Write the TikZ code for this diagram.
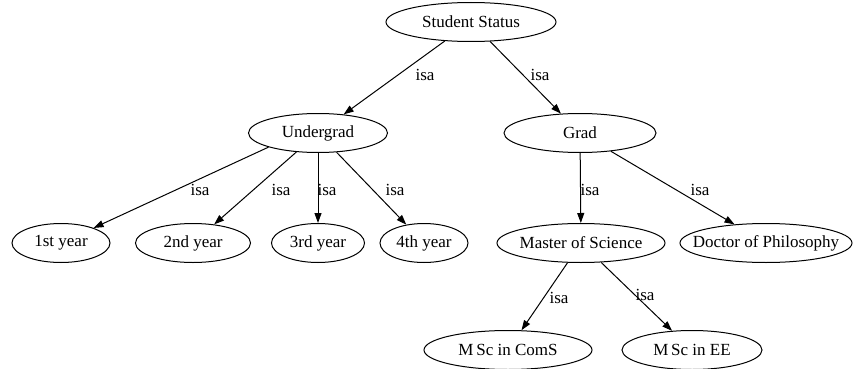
\documentclass[tikz,border=0pt]{standalone}
\usepackage{fontspec}
\setmainfont{Liberation Serif}
\usetikzlibrary{shapes.geometric,arrows.meta}
\newcommand\mytb[1]{\makebox[0pt]{#1}}
\begin{document}
\begin{tikzpicture}[x=1pt,y=-1pt,
  st/.style={draw, ellipse, line width=1pt, inner sep=0pt, minimum height=39pt, font=\fontsize{17}{20}\selectfont},
  ed/.style={-{Triangle[length=10pt,width=7pt]}, line width=1pt},
  lb/.style={font=\fontsize{17}{20}\selectfont, inner sep=0pt}]
\useasboundingbox (0,0) rectangle (862,369);
\node[st, minimum width=170pt] (ss) at (471,22) {\mytb{Student Status}};
\node[st, minimum width=139pt] (ug) at (318,133) {\mytb{Undergrad}};
\node[st, minimum width=152pt] (gr) at (580,133) {\mytb{Grad}};
\node[st, minimum width=98pt] (y1) at (61,243) {\mytb{1st year}};
\node[st, minimum width=115pt] (y2) at (193,243) {\mytb{2nd year}};
\node[st, minimum width=93pt] (y3) at (318,243) {\mytb{3rd year}};
\node[st, minimum width=88pt] (y4) at (424,243) {\mytb{4th year}};
\node[st, minimum width=168pt] (ms) at (581,243) {\mytb{Master of Science}};
\node[st, minimum width=172pt] (dp) at (766,243) {\mytb{Doctor of Philosophy}};
\node[st, minimum width=168pt] (mc) at (508,350) {\mytb{M\,Sc in ComS}};
\node[st, minimum width=140pt] (me) at (692,350) {\mytb{M\,Sc in EE}};
\draw[ed] (ss) -- (ug);
\draw[ed] (ss) -- (gr);
\draw[ed] (ug.south west) -- (y1);
\draw[ed] (ug) -- (y2);
\draw[ed] (ug) -- (y3);
\draw[ed] (ug) -- (y4);
\draw[ed] (gr) -- (ms);
\draw[ed] (gr) -- (dp);
\draw[ed] (ms) -- (mc);
\draw[ed] (ms) -- (me);
\node[lb] (l1) at (425,75) {isa};
\node[lb] (l2) at (540,75) {isa};
\node[lb] (l3) at (200,190) {isa};
\node[lb] (l4) at (281,190) {isa};
\node[lb] (l5) at (327,190) {isa};
\node[lb] (l6) at (395,190) {isa};
\node[lb] (l7) at (590,190) {isa};
\node[lb] (l8) at (700,190) {isa};
\node[lb] (l9) at (559,298) {isa};
\node[lb] (l10) at (645,295) {isa};
\end{tikzpicture}
\end{document}
